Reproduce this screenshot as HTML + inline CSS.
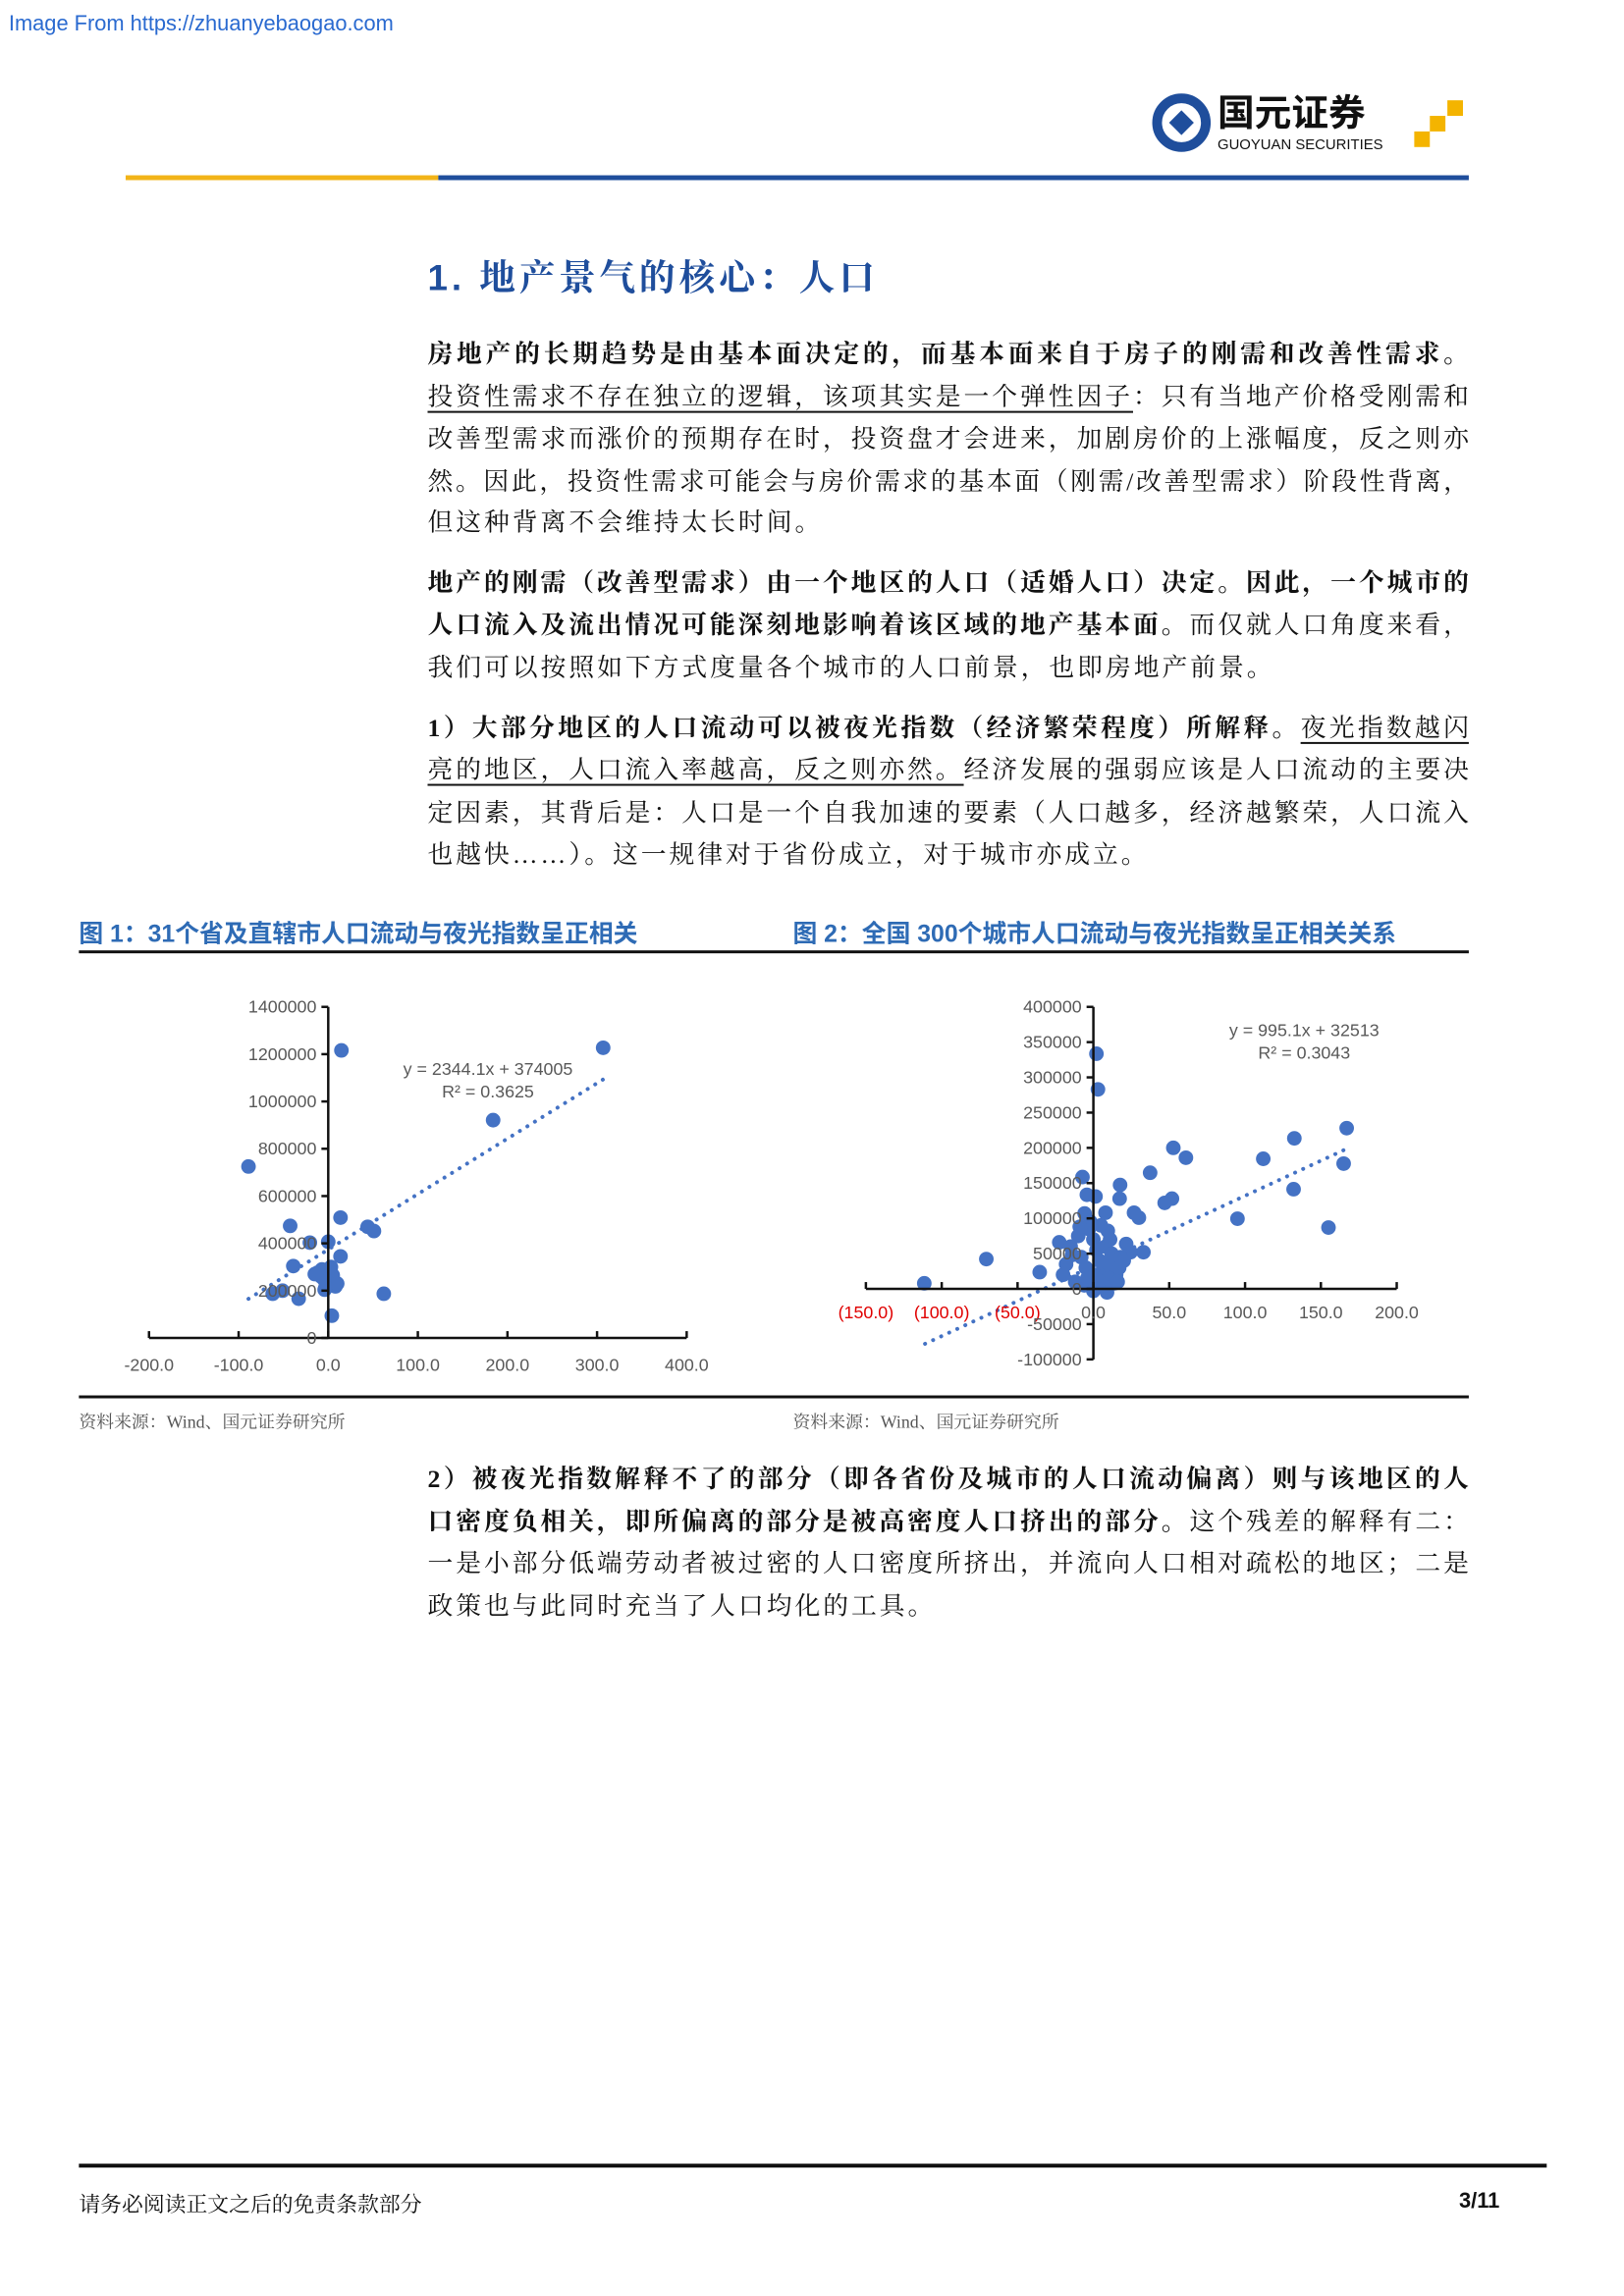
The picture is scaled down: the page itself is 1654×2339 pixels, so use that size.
<!DOCTYPE html>
<html><head><meta charset="utf-8">
<style>
*{margin:0;padding:0;box-sizing:border-box}
body{width:1654px;height:2339px;background:#fff;position:relative;overflow:hidden;font-family:"Liberation Serif","Noto Serif CJK SC",serif;color:#111}
#wrap{position:absolute;left:0;top:0;width:1654px;height:2339px;transform:scale(0.992);transform-origin:0 0}
.abs{position:absolute}
.ln{position:absolute;left:439px;width:1069px;font-size:26px;line-height:36px;text-align:justify;text-align-last:justify}
.ln.nl{text-align-last:left}
.b{font-weight:bold}
.u{text-decoration:underline;text-underline-offset:6px}
.ft{position:absolute;font-family:"Liberation Sans","Noto Sans CJK SC",sans-serif;font-weight:bold;color:#2e6bb5;font-size:25px;top:939px;white-space:nowrap}
.src{position:absolute;top:1446px;font-size:18px;color:#555;white-space:nowrap}
</style></head><body>
<div id="wrap">
<div class="abs" style="left:9px;top:11px;font-family:'Liberation Sans',sans-serif;font-size:22px;color:#2a6ad0">Image From https://zhuanyebaogao.com</div>

<div class="abs" style="left:1180px;top:95px;width:330px;height:70px">
<svg width="330" height="70" viewBox="0 0 330 70">
<circle cx="33" cy="31" r="25" fill="none" stroke="#1f4e9c" stroke-width="10"/>
<rect x="24" y="22" width="18" height="18" fill="#1f4e9c" transform="rotate(45 33 31)"/>
<text x="70" y="34" font-family="Noto Sans CJK SC,sans-serif" font-weight="bold" font-size="38" fill="#111">国元证券</text>
<text x="70" y="58" font-family="Liberation Sans,sans-serif" font-size="15" fill="#111">GUOYUAN SECURITIES</text>
<rect x="272" y="40" width="16" height="16" fill="#f4b400"/>
<rect x="288" y="24" width="16" height="16" fill="#f4b400"/>
<rect x="306" y="8" width="16" height="16" fill="#f4b400"/>
</svg></div>
<div class="abs" style="left:129px;top:180px;width:321px;height:5px;background:#f2b418"></div>
<div class="abs" style="left:450px;top:180px;width:1058px;height:5px;background:#1f4e9c"></div>

<div class="abs" style="left:439px;top:255px;font-size:37px;font-weight:bold;color:#1f4e9c;letter-spacing:4px;font-family:'Liberation Sans','Noto Serif CJK SC',serif">1. 地产景气的核心：人口</div>

<div class="ln b" style="top:346px">房地产的长期趋势是由基本面决定的，而基本面来自于房子的刚需和改善性需求。</div>
<div class="ln" style="top:390px"><span class="u">投资性需求不存在独立的逻辑，该项其实是一个弹性因子</span>：只有当地产价格受刚需和</div>
<div class="ln" style="top:433px">改善型需求而涨价的预期存在时，投资盘才会进来，加剧房价的上涨幅度，反之则亦</div>
<div class="ln" style="top:477px">然。因此，投资性需求可能会与房价需求的基本面（刚需/改善型需求）阶段性背离，</div>
<div class="ln nl" style="top:519px;letter-spacing:3px">但这种背离不会维持太长时间。</div>

<div class="ln b" style="top:581px">地产的刚需（改善型需求）由一个地区的人口（适婚人口）决定。因此，一个城市的</div>
<div class="ln" style="top:624px"><span class="b">人口流入及流出情况可能深刻地影响着该区域的地产基本面。</span>而仅就人口角度来看，</div>
<div class="ln nl" style="top:668px;letter-spacing:3px">我们可以按照如下方式度量各个城市的人口前景，也即房地产前景。</div>

<div class="ln" style="top:730px"><span class="b">1）大部分地区的人口流动可以被夜光指数（经济繁荣程度）所解释。</span><span class="u">夜光指数越闪</span></div>
<div class="ln" style="top:773px"><span class="u">亮的地区，人口流入率越高，反之则亦然。</span>经济发展的强弱应该是人口流动的主要决</div>
<div class="ln" style="top:817px">定因素，其背后是：人口是一个自我加速的要素（人口越多，经济越繁荣，人口流入</div>
<div class="ln nl" style="top:860px;letter-spacing:3px">也越快……）。这一规律对于省份成立，对于城市亦成立。</div>

<div class="ft" style="left:81px">图 1：31个省及直辖市人口流动与夜光指数呈正相关</div>
<div class="ft" style="left:814px">图 2：全国 300个城市人口流动与夜光指数呈正相关关系</div>
<div class="abs" style="left:81px;top:976px;width:1427px;height:3px;background:#111"></div>

<svg class="abs" id="charts" style="left:0;top:0" width="1654" height="1440"></svg>

<div class="abs" style="left:81px;top:1433px;width:1427px;height:3px;background:#111"></div>
<div class="src" style="left:81px">资料来源：Wind、国元证券研究所</div>
<div class="src" style="left:814px">资料来源：Wind、国元证券研究所</div>

<div class="ln" style="top:1501px"><span class="b">2）被夜光指数解释不了的部分（即各省份及城市的人口流动偏离）则与该地区的人</span></div>
<div class="ln" style="top:1545px"><span class="b">口密度负相关，即所偏离的部分是被高密度人口挤出的部分。</span>这个残差的解释有二：</div>
<div class="ln" style="top:1588px">一是小部分低端劳动者被过密的人口密度所挤出，并流向人口相对疏松的地区；二是</div>
<div class="ln nl" style="top:1632px;letter-spacing:3px">政策也与此同时充当了人口均化的工具。</div>

<div class="abs" style="left:81px;top:2222px;width:1507px;height:4px;background:#111"></div>
<div class="abs" style="left:81px;top:2247px;font-size:22px">请务必阅读正文之后的免责条款部分</div>
<div class="abs" style="left:1498px;top:2247px;font-size:22px;font-weight:bold;font-family:'Liberation Sans',sans-serif">3/11</div>
</div>

<script>
// Chart 1 data
const c1X = [14.7,306.8,184,-89,13.7,-42.5,44,51,-20.5,0,13.7,-39,-12,2.4,-5,8,-4,-62,-33,62,4,-51,-7,0,-8,5,-2,10,-15,3,-3];
const c1Y = [1216000,1227000,921000,725000,509000,474000,470000,452000,403000,407000,345000,304000,276000,283000,249000,218000,204000,187000,166000,187000,94000,200000,290000,228000,260000,265000,240000,230000,270000,300000,215000];
const c1XTicks = [-200,-100,0,100,200,300,400];
const c1YTicks = [0,200000,400000,600000,800000,1000000,1200000,1400000];
const c1Slope = 2344.1, c1Int = 374005;
// Chart 2 data
const c2X = [2,3,167,132.5,52.7,61,112,165,37.4,-7.2,17.6,-4.3,1.4,17.3,51.8,47,132,-5.8,8,26.8,30,95,155,9.5,-22.5,21.6,33,24.5,-70.6,-35.4,-111.5,
 -15,-10,-8,-5,-3,0,2,4,6,8,10,12,15,18,-20,-18,-12,-6,0,3,7,10,14,17,20,-2,5,-9,11,-14,1,-4,9,16];
const c2Y = [333500,283000,228000,213500,200000,186000,184500,177700,164700,158600,147400,133500,131000,128000,128000,122000,141400,107000,108000,108000,101000,99500,87000,82300,66000,63700,52000,52000,42300,23700,7900,
 60000,75000,45000,30000,85000,70000,55000,40000,25000,60000,35000,50000,20000,45000,20000,35000,10000,5000,-3000,10000,5000,15000,8000,30000,40000,95000,90000,88000,70000,48000,20000,15000,-5000,10000];
const c2XTicks = [-150,-100,-50,0,50,100,150,200];
const c2XLabels = ["(150.0)","(100.0)","(50.0)","0.0","50.0","100.0","150.0","200.0"];
const c2YTicks = [-100000,-50000,0,50000,100000,150000,200000,250000,300000,350000,400000];
const c2Slope = 995.1, c2Int = 32513;

const NS='http://www.w3.org/2000/svg';
const svg=document.getElementById('charts');
function mk(tag,attrs,parent){const e=document.createElementNS(NS,tag);for(const k in attrs)e.setAttribute(k,attrs[k]);(parent||svg).appendChild(e);return e;}

function drawChart(o){
  const g=mk('g',{});
  
  
  const sx=v=>o.x0+(v-o.xmin)/(o.xmax-o.xmin)*(o.x1-o.x0);
  const sy=v=>o.y0-(v-o.ymin)/(o.ymax-o.ymin)*(o.y0-o.y1);
  const ax=sx(0), ay=sy(0);
  const tl=mk('line',{x1:sx(o.tmin),y1:sy(o.slope*o.tmin+o.icpt),x2:sx(o.tmax),y2:sy(o.slope*o.tmax+o.icpt),stroke:'#4472c4','stroke-width':4,'stroke-dasharray':'0.1 9','stroke-linecap':'round'},g);
  
  
  for(let i=0;i<o.xs.length;i++){
    const c=mk('circle',{cx:sx(o.xs[i]),cy:sy(o.ys[i]),r:7.5,fill:'#4472c4'},g);
    
    
  }
  const xa=mk('line',{x1:sx(o.xmin),y1:ay,x2:sx(o.xmax),y2:ay,stroke:'#111','stroke-width':2.5},g);
  
  
  const ya=mk('line',{x1:ax,y1:sy(o.ymin),x2:ax,y2:sy(o.ymax),stroke:'#111','stroke-width':2.5},g);
  
  
  o.xt.forEach((v,i)=>{
    mk('line',{x1:sx(v),y1:ay,x2:sx(v),y2:ay-7,stroke:'#111','stroke-width':2.5},g);
    const t=mk('text',{x:sx(v),y:o.xly,'text-anchor':'middle','font-size':18,'font-family':'Liberation Sans,sans-serif',fill:(o.xred&&v<0)?'#e00000':'#595959'},g);
    t.textContent=o.xl[i];
    
    
  });
  o.yt.forEach(v=>{
    mk('line',{x1:ax,y1:sy(v),x2:ax-7,y2:sy(v),stroke:'#111','stroke-width':2.5},g);
    const t=mk('text',{x:ax-12,y:sy(v)+6,'text-anchor':'end','font-size':18,'font-family':'Liberation Sans,sans-serif',fill:'#595959'},g);
    t.textContent=String(v);
    
    
  });
  o.eq.forEach((s,i)=>{
    const t=mk('text',{x:o.eqx,y:o.eqy+i*23,'text-anchor':'middle','font-size':18,'font-family':'Liberation Sans,sans-serif',fill:'#595959'},g);
    t.textContent=s;
    
    
  });
}
drawChart({name:'chart1-scatter',xs:c1X,ys:c1Y,xmin:-200,xmax:400,ymin:0,ymax:1400000,x0:153,x1:705,y0:1374,y1:1034,
  xt:c1XTicks,xl:c1XTicks.map(v=>v.toFixed(1)),yt:c1YTicks,xly:1408,slope:c1Slope,icpt:c1Int,tmin:-89,tmax:307,
  eq:['y = 2344.1x + 374005','R² = 0.3625'],eqx:501,eqy:1104});
drawChart({name:'chart2-scatter',xs:c2X,ys:c2Y,xmin:-150,xmax:200,ymin:-100000,ymax:400000,x0:889,x1:1434,y0:1396,y1:1034,
  xt:c2XTicks,xl:c2XLabels,yt:c2YTicks,xly:1354,xred:true,slope:c2Slope,icpt:c2Int,tmin:-111,tmax:165,
  eq:['y = 995.1x + 32513','R² = 0.3043'],eqx:1339,eqy:1064});
</script>
</body></html>
